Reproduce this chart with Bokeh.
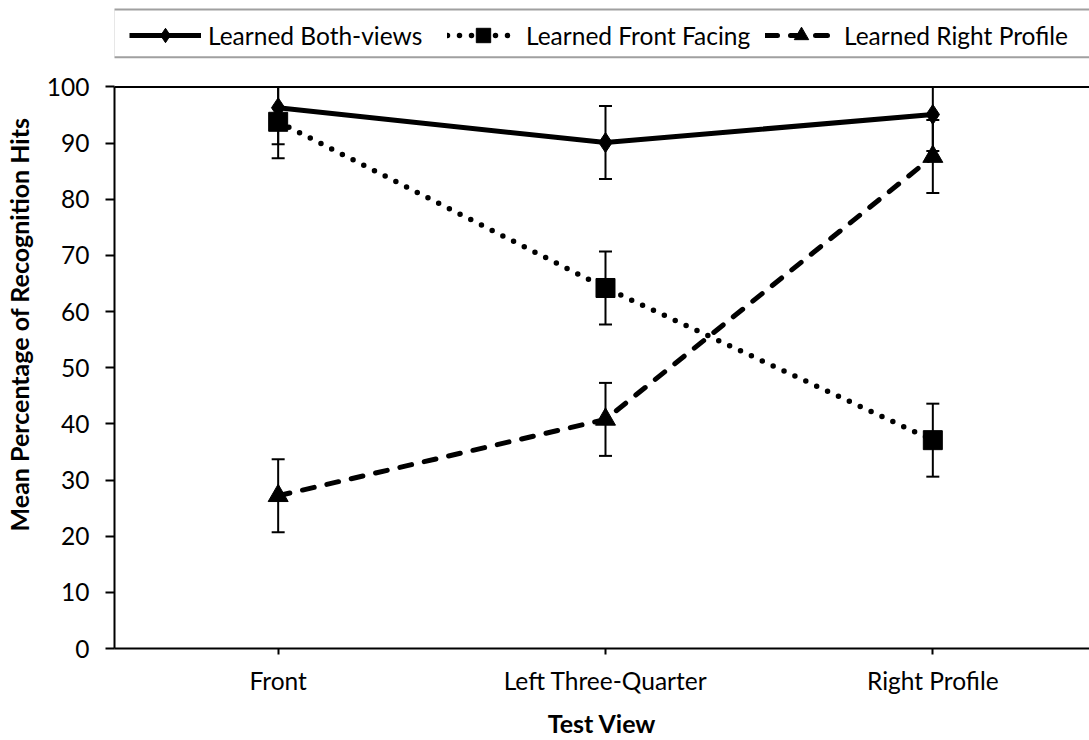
from bokeh.plotting import figure
from bokeh.models import FixedTicker, Legend, LegendItem, Span, Range1d, BoxAnnotation
from bokeh.embed import file_html
from bokeh.resources import INLINE

# ---- data ----
categories = ["Front", "Left Three-Quarter", "Right Profile"]
cat_pos = [0, 1, 2]
series_names = ["Learned Both-views", "Learned Front Facing", "Learned Right Profile"]
both_views = [96.3, 90.1, 95.1]
front_facing = [93.8, 64.2, 37.1]
right_profile = [27.2, 40.8, 87.6]
err_both = [6.5, 6.5, 6.5]
err_front = [6.5, 6.5, 6.5]
err_right = [6.5, 6.5, 6.5]
y_ticks = [0, 10, 20, 30, 40, 50, 60, 70, 80, 90, 100]
y_max = 100

FONT = "Lato"
W, H = 1089, 740
LEFT, BOTTOM = 112, 88
frame_w = W - LEFT
frame_h = H - BOTTOM           # frame reaches the top of the figure
px_per_cat = 328.0
px_per_unit = 5.65
x_start = -0.5
y_top = frame_h / px_per_unit  # space above 100 holds the legend

p = figure(width=W, height=H, output_backend="svg", toolbar_location=None,
           x_range=Range1d(x_start, x_start + frame_w / px_per_cat),
           y_range=Range1d(0, y_top),
           min_border_left=LEFT, min_border_right=0, min_border_top=0,
           min_border_bottom=BOTTOM)
p.xgrid.visible = False
p.ygrid.visible = False
p.outline_line_color = None
p.background_fill_color = "white"
p.border_fill_color = "white"

# axes
p.xaxis.ticker = FixedTicker(ticks=cat_pos)
p.xaxis.major_label_overrides = {k: c for k, c in zip(cat_pos, categories)}
p.yaxis.ticker = FixedTicker(ticks=y_ticks)
p.yaxis.bounds = (0, y_max)
for ax in (p.xaxis[0], p.yaxis[0]):
    ax.axis_line_width = 2
    ax.axis_line_color = "black"
    ax.major_tick_line_width = 2
    ax.major_tick_line_color = "black"
    ax.minor_tick_line_color = None
    ax.major_tick_in = 0
    ax.major_label_text_font = FONT
    ax.major_label_text_font_size = "24.5px"
    ax.major_label_text_color = "black"
    ax.axis_label_text_font = FONT
    ax.axis_label_text_font_size = "25px"
    ax.axis_label_text_font_style = "bold"
    ax.axis_label_text_color = "black"
p.xaxis.major_tick_out = 6
p.yaxis.major_tick_out = 9
p.xaxis.major_label_standoff = 11
p.yaxis.major_label_standoff = 16
p.xaxis.axis_label = "Test View"
p.yaxis.axis_label = "Mean Percentage of Recognition Hits"
p.xaxis.axis_label_standoff = 10
p.yaxis.axis_label_standoff = 10

# top border line of the plot area
p.add_layout(Span(location=y_max, dimension="width", line_color="black", line_width=2))

# legend frame (open to the right, like the original)
p.add_layout(BoxAnnotation(left=x_start - 1 / px_per_cat, right=x_start + 10,
                           top=(frame_h - 9) / px_per_unit, bottom=(frame_h - 57) / px_per_unit,
                           fill_color="white", fill_alpha=1.0,
                           line_color="#a0a0a0", line_width=2, line_alpha=1.0))

# lines
l_both = p.line(cat_pos, both_views, line_width=5, line_color="black", line_join="round")
l_front = p.line(cat_pos, front_facing, line_width=5.5, line_color="black",
                 line_dash="0 12", line_cap="round")
l_right = p.line(cat_pos, right_profile, line_width=5, line_color="black",
                 line_dash="12 13", line_cap="round")

# error bars (clipped at the top of the plot area, as in the original)
for vals, errs in ((both_views, err_both), (front_facing, err_front), (right_profile, err_right)):
    lo = [v - e for v, e in zip(vals, errs)]
    hi = [min(v + e, y_max) for v, e in zip(vals, errs)]
    p.segment(x0=cat_pos, y0=lo, x1=cat_pos, y1=hi, line_width=2, line_color="black")
    p.scatter(cat_pos, lo, marker="dash", size=13, line_width=2, line_color="black")
    p.scatter(cat_pos, hi, marker="dash", size=13, line_width=2, line_color="black")

# markers
m_both = p.scatter(cat_pos, both_views, marker="diamond", size=20, color="black")
m_front = p.scatter(cat_pos, front_facing, marker="square", size=19, color="black")
m_right = p.scatter(cat_pos, right_profile, marker="triangle", size=20, color="black")

items = [
    LegendItem(label=series_names[0], renderers=[l_both, m_both]),
    LegendItem(label=series_names[1], renderers=[l_front, m_front]),
    LegendItem(label=series_names[2], renderers=[l_right, m_right]),
]
legend = Legend(items=items, orientation="horizontal", location=(15, frame_h - 57),
                border_line_color=None, background_fill_alpha=0.0,
                label_text_font=FONT, label_text_font_size="24.5px", label_text_color="black",
                glyph_width=72, glyph_height=36, label_standoff=7, spacing=7,
                padding=6, margin=0, label_width=232, label_height=36)
p.add_layout(legend, "center")

open("out.html", "w").write(file_html(p, INLINE))
